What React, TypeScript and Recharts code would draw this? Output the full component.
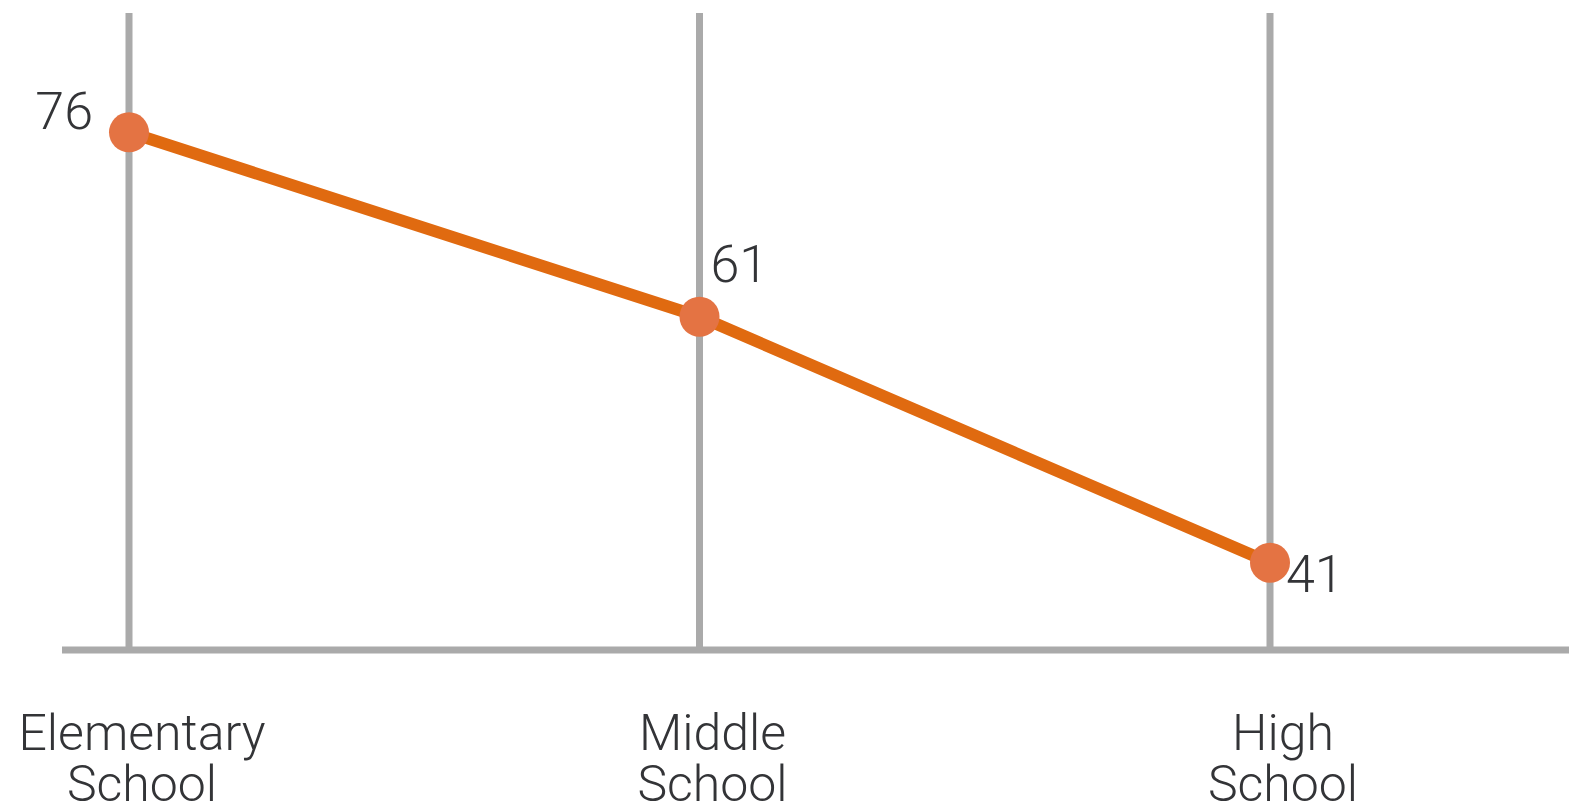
import { LineChart, Line, XAxis, YAxis, ReferenceLine, LabelList } from 'recharts';

const LEVELS = ['Elementary School', 'Middle School', 'High School'];
const SHARE = [76, 61, 41];

const data = LEVELS.map((level, i) => ({ level, share: SHARE[i] }));

const GREY = '#aaaaaa';
const INK = '#333437';
const FONT = 'Roboto, "Liberation Sans", sans-serif';

function LevelTick(props: any) {
  const { x, y, payload } = props;
  const words = String(payload.value).split(' ');
  return (
    <g>
      <text x={x + 13} y={y + 92} textAnchor="middle" fill={INK} fontFamily={FONT} fontWeight={300} fontSize={50}>
        {words[0]}
      </text>
      <text x={x + 13} y={y + 143} textAnchor="middle" fill={INK} fontFamily={FONT} fontWeight={300} fontSize={50}>
        {words[1]}
      </text>
    </g>
  );
}

function ValueLabel(props: any) {
  const { x, y, value, index } = props;
  let tx = x + 11;
  let ty = y - 35;
  let anchor: 'start' | 'end' = 'start';
  if (index === 0) {
    tx = x - 36;
    ty = y - 3;
    anchor = 'end';
  } else if (index === 2) {
    tx = x + 16;
    ty = y + 29;
  }
  return (
    <text x={tx} y={ty} textAnchor={anchor} fill={INK} fontFamily={FONT} fontWeight={300} fontSize={52}>
      {value}
    </text>
  );
}

export default function App() {
  return (
    <div style={{ position: 'absolute', left: 0, top: 0, background: '#fff' }}>
      <LineChart width={1569} height={811} data={data} margin={{ top: 13, right: 0, bottom: 0, left: 62 }}>
        {LEVELS.map((l) => (
          <ReferenceLine key={l} x={l} stroke={GREY} strokeWidth={7} />
        ))}
        <XAxis
          dataKey="level"
          height={161}
          padding={{ left: 67, right: 299 }}
          axisLine={{ stroke: GREY, strokeWidth: 7 }}
          tickLine={false}
          tick={<LevelTick />}
          interval={0}
        />
        <YAxis hide domain={[33.9, 85.7]} />
        <Line
          dataKey="share"
          stroke="#e06a10"
          strokeWidth={12}
          dot={{ r: 20, fill: '#e47343', stroke: 'none' }}
          isAnimationActive={false}
        >
          <LabelList dataKey="share" content={<ValueLabel />} />
        </Line>
      </LineChart>
    </div>
  );
}
